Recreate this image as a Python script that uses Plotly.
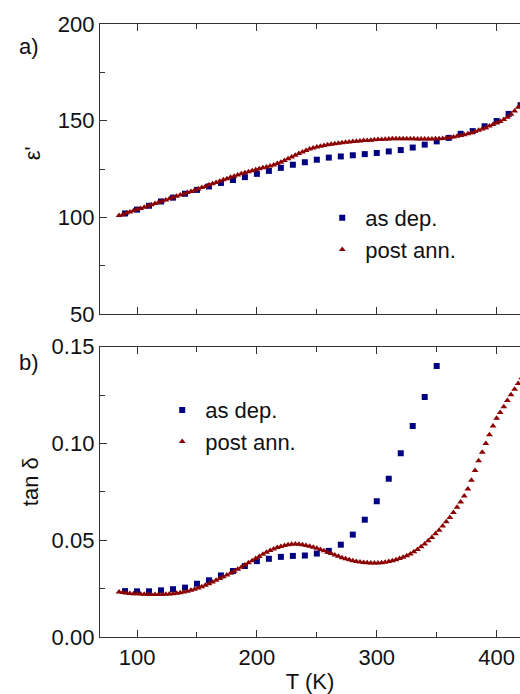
import plotly.graph_objects as go

# ---------- data ----------
T_post = [85, 88, 91, 94, 97, 100, 103, 106, 109, 112, 115, 118, 121, 124, 127, 130, 133, 136, 139, 142,
          145, 148, 151, 154, 157, 160, 163, 166, 169, 172, 175, 178, 181, 184, 187, 190, 193, 196, 199, 202,
          205, 208, 211, 214, 217, 220, 223, 226, 229, 232, 235, 238, 241, 244, 247, 250, 253, 256, 259, 262,
          265, 268, 271, 274, 277, 280, 283, 286, 289, 292, 295, 298, 301, 304, 307, 310, 313, 316, 319, 322,
          325, 328, 331, 334, 337, 340, 343, 346, 349, 352, 355, 358, 361, 364, 367, 370, 373, 376, 379, 382,
          385, 388, 391, 394, 397, 400, 403, 406, 409, 412, 415, 418, 421]

eps_post = [101.0, 101.4, 102.2, 102.8, 103.4, 104.0, 104.6, 105.2, 105.9, 106.5, 107.1, 107.8, 108.4, 109.0,
            109.6, 110.3, 110.9, 111.5, 112.1, 112.8, 113.4, 114.0, 114.7, 115.4, 116.0, 116.7, 117.4, 118.0,
            118.7, 119.4, 120.0, 120.7, 121.3, 121.9, 122.5, 123.1, 123.6, 124.1, 124.6, 125.1, 125.6, 126.0,
            126.5, 127.1, 127.8, 128.5, 129.4, 130.3, 131.2, 132.1, 133.0, 133.8, 134.6, 135.3, 135.9, 136.4,
            136.8, 137.2, 137.5, 137.8, 138.1, 138.3, 138.6, 138.8, 139.0, 139.2, 139.4, 139.5, 139.7, 139.8,
            139.9, 140.1, 140.2, 140.3, 140.4, 140.5, 140.6, 140.6, 140.7, 140.7, 140.7, 140.6, 140.6, 140.5,
            140.5, 140.5, 140.5, 140.5, 140.6, 140.7, 140.8, 141.0, 141.2, 141.5, 141.9, 142.3, 142.7, 143.2,
            143.8, 144.4, 145.0, 145.7, 146.4, 147.2, 148.0, 148.8, 149.6, 150.6, 151.8, 153.3, 155.0, 157.0,
            159.2]

tan_post = [0.0233, 0.0230, 0.0227, 0.0225, 0.0224, 0.0223, 0.0222, 0.0221, 0.0220, 0.0219, 0.0219, 0.0219,
            0.0220, 0.0221, 0.0222, 0.0224, 0.0226, 0.0229, 0.0233, 0.0237, 0.0242, 0.0247, 0.0253, 0.0260,
            0.0267, 0.0275, 0.0284, 0.0293, 0.0302, 0.0311, 0.0320, 0.0330, 0.0340, 0.0350, 0.0361, 0.0372,
            0.0383, 0.0394, 0.0405, 0.0416, 0.0427, 0.0438, 0.0447, 0.0455, 0.0462, 0.0468, 0.0473, 0.0477,
            0.0479, 0.0480, 0.0479, 0.0477, 0.0473, 0.0469, 0.0464, 0.0458, 0.0452, 0.0445, 0.0438, 0.0431,
            0.0424, 0.0417, 0.0410, 0.0404, 0.0399, 0.0394, 0.0390, 0.0387, 0.0385, 0.0383, 0.0382, 0.0382,
            0.0382, 0.0384, 0.0386, 0.0390, 0.0394, 0.0399, 0.0405, 0.0412, 0.0420, 0.0429, 0.0440, 0.0452,
            0.0466, 0.0481, 0.0497, 0.0514, 0.0533, 0.0552, 0.0573, 0.0595, 0.0618, 0.0643, 0.0670, 0.0698,
            0.0729, 0.0765, 0.0810, 0.0860, 0.0910, 0.0955, 0.1000, 0.1045, 0.1090, 0.1130, 0.1160, 0.1190,
            0.1222, 0.1252, 0.1280, 0.1310, 0.1340]

T_dep = [90, 100, 110, 120, 130, 140, 150, 160, 170, 180, 190, 200, 210, 220, 230, 240, 250, 260, 270, 280,
         290, 300, 310, 320, 330, 340, 350, 360, 370, 380, 390, 400, 410, 420]

eps_dep = [102.0, 104.0, 106.0, 108.2, 110.2, 112.2, 114.2, 116.0, 117.8, 119.3, 120.8, 122.5, 124.0, 125.6,
           127.2, 128.5, 129.8, 130.9, 131.5, 132.1, 132.7, 133.3, 134.1, 134.8, 136.1, 137.6, 139.3, 141.1,
           143.2, 144.6, 147.1, 149.8, 153.5, 158.0]

T_dep_tan = [90, 100, 110, 120, 130, 140, 150, 160, 170, 180, 190, 200, 210, 220, 230, 240, 250, 260, 270,
             280, 290, 300, 310, 320, 330, 340, 350]

tan_dep = [0.0237, 0.0236, 0.0236, 0.0241, 0.0247, 0.0255, 0.0275, 0.0293, 0.0318, 0.0341, 0.0367, 0.0392,
           0.0404, 0.0414, 0.0419, 0.0421, 0.0431, 0.0445, 0.0477, 0.0529, 0.0606, 0.0701, 0.0817, 0.0949,
           0.1090, 0.1240, 0.1400]

x_range = [69.1, 419.5]
x_ticks = [100, 200, 300, 400]
y1_ticks = [50, 100, 150, 200]
y2_ticks = [0.00, 0.05, 0.10, 0.15]
y2_ticklabels = ["0.00", "0.05", "0.10", "0.15"]

# ---------- style ----------
BLUE = "#000085"
RED = "#8B0000"
AX = "#333333"
FONT = "Liberation Sans, Arial, sans-serif"
FS = 22

fig = go.Figure()

fig.add_trace(go.Scatter(x=T_dep, y=eps_dep, mode="markers", name="as dep.",
                         marker=dict(symbol="square", size=6, color=BLUE),
                         xaxis="x", yaxis="y", legend="legend"))
fig.add_trace(go.Scatter(x=T_post, y=eps_post, mode="markers", name="post ann.",
                         marker=dict(symbol="triangle-up", size=6, color=RED),
                         xaxis="x", yaxis="y", legend="legend"))
fig.add_trace(go.Scatter(x=T_dep_tan, y=tan_dep, mode="markers", name="as dep.",
                         marker=dict(symbol="square", size=6, color=BLUE),
                         xaxis="x2", yaxis="y2", legend="legend2"))
fig.add_trace(go.Scatter(x=T_post, y=tan_post, mode="markers", name="post ann.",
                         marker=dict(symbol="triangle-up", size=6, color=RED),
                         xaxis="x2", yaxis="y2", legend="legend2"))

axis_common = dict(showline=True, linecolor=AX, linewidth=1.3, ticks="inside", ticklen=7,
                   tickwidth=1.2, tickcolor=AX, showgrid=False, zeroline=False,
                   tickfont=dict(family=FONT, size=FS, color="#111111"))

fig.update_layout(
    width=520, height=694,
    margin=dict(l=100, r=0, t=24, b=57),
    paper_bgcolor="white", plot_bgcolor="white",
    font=dict(family=FONT, size=FS, color="#111111"),
    xaxis=dict(domain=[0, 1], anchor="y", range=x_range, tickvals=x_ticks, showticklabels=False,
               mirror="ticks", minor=dict(dtick=50, tick0=0, ticks="inside", ticklen=5, tickcolor=AX),
               **axis_common),
    yaxis=dict(domain=[0.5269, 1], anchor="x", range=[50, 200], tickvals=y1_ticks,
               minor=dict(dtick=25, tick0=0, ticks="inside", ticklen=5, tickcolor=AX),
               **axis_common),
    xaxis2=dict(domain=[0, 1], anchor="y2", range=x_range, tickvals=x_ticks, matches="x",
                mirror="ticks", minor=dict(dtick=50, tick0=0, ticks="inside", ticklen=5, tickcolor=AX),
                title=dict(text="T (K)", font=dict(family=FONT, size=FS), standoff=7),
                **axis_common),
    yaxis2=dict(domain=[0, 0.4736], anchor="x2", range=[0, 0.15], tickvals=y2_ticks,
                ticktext=y2_ticklabels,
                minor=dict(dtick=0.025, tick0=0, ticks="inside", ticklen=5, tickcolor=AX),
                **axis_common),
    legend=dict(x=0.522, y=0.7178, xanchor="left", yanchor="top", bgcolor="rgba(0,0,0,0)",
                font=dict(family=FONT, size=FS), tracegroupgap=0, itemwidth=36),
    legend2=dict(x=0.141, y=0.4044, xanchor="left", yanchor="top", bgcolor="rgba(0,0,0,0)",
                 font=dict(family=FONT, size=FS), tracegroupgap=0, itemwidth=36),
    showlegend=True,
)

annotations = [
    dict(text="a)", x=-0.17, y=0.9625, xref="paper", yref="paper", showarrow=False,
         font=dict(family=FONT, size=FS), xanchor="center", yanchor="middle"),
    dict(text="b)", x=-0.17, y=0.4486, xref="paper", yref="paper", showarrow=False,
         font=dict(family=FONT, size=FS), xanchor="center", yanchor="middle"),
    dict(text="ε'", x=-0.162, y=0.789, xref="paper", yref="paper", showarrow=False, textangle=-90,
         font=dict(family=FONT, size=FS), xanchor="center", yanchor="middle"),
    dict(text="tan δ", x=-0.167, y=0.254, xref="paper", yref="paper", showarrow=False, textangle=-90,
         font=dict(family=FONT, size=FS), xanchor="center", yanchor="middle"),
]
fig.update_layout(annotations=annotations)

fig.write_html("out.html", config={"displayModeBar": False},
               post_script="document.body.style.margin='0';document.body.style.overflow='hidden';")
